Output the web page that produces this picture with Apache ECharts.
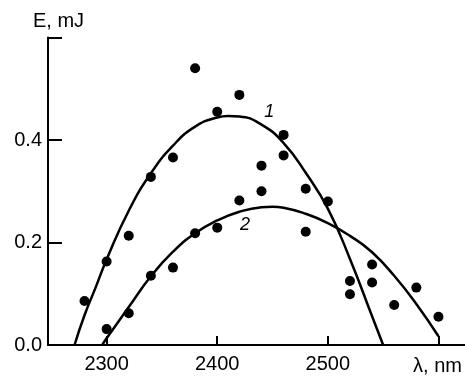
<!DOCTYPE html>
<html>
<head>
<meta charset="utf-8">
<script src="https://cdn.jsdelivr.net/npm/echarts@6/dist/echarts.min.js"></script>
<style>
  html, body { margin: 0; padding: 0; background: #fff; }
  #chart { width: 465px; height: 376px; }
</style>
</head>
<body>
<div id="chart"></div>
<script>
// measured points: [wavelength nm, energy mJ]
const measured = [
  [2280, 0.086], [2300, 0.163], [2300, 0.031], [2320, 0.213], [2320, 0.062],
  [2340, 0.328], [2340, 0.135], [2360, 0.366], [2360, 0.151], [2380, 0.540],
  [2380, 0.218], [2400, 0.455], [2400, 0.229], [2420, 0.488], [2420, 0.282],
  [2440, 0.350], [2440, 0.300], [2460, 0.410], [2460, 0.370], [2480, 0.305],
  [2480, 0.221], [2500, 0.280], [2520, 0.125], [2520, 0.099], [2540, 0.157],
  [2540, 0.122], [2560, 0.078], [2580, 0.112], [2600, 0.055]
];

// fitted curves
const curve1 = [
  [2271, 0], [2280, 0.058], [2290, 0.112], [2300, 0.167], [2320, 0.262],
  [2340, 0.335], [2360, 0.389], [2380, 0.426], [2400, 0.444], [2410, 0.447],
  [2420, 0.446], [2440, 0.430], [2460, 0.394], [2480, 0.336], [2500, 0.266],
  [2520, 0.168], [2540, 0.056], [2550, 0]
];
const curve2 = [
  [2296, 0], [2300, 0.013], [2320, 0.074], [2340, 0.134], [2360, 0.182],
  [2380, 0.218], [2400, 0.243], [2420, 0.260], [2440, 0.269], [2450, 0.270],
  [2460, 0.268], [2480, 0.256], [2500, 0.238], [2520, 0.213], [2540, 0.181],
  [2560, 0.135], [2580, 0.080], [2600, 0.017]
];

// curve numbers and where they sit
const curveTags = [
  { text: '1', at: [2447, 0.455] },
  { text: '2', at: [2425, 0.234] }
];

const xTicks = [2300, 2400, 2500, 2600];
const xLabels = [2300, 2400, 2500];
const yLabels = [0, 0.2, 0.4];

const font = 'Liberation Sans, Arial, sans-serif';
const chart = echarts.init(document.getElementById('chart'));

function tag(i) {
  return {
    symbol: 'circle',
    symbolSize: 0,
    silent: true,
    label: {
      show: true,
      position: 'inside',
      color: '#000',
      fontFamily: font,
      fontSize: 18,
      fontStyle: 'italic',
      formatter: curveTags[i].text
    },
    data: [{ coord: curveTags[i].at }]
  };
}

chart.setOption({
  animation: false,
  backgroundColor: '#fff',
  grid: { left: 48, right: 0, top: 37.5, bottom: 31 },
  xAxis: {
    type: 'value',
    min: 2247,
    max: 2624,
    name: 'λ, nm',
    nameLocation: 'end',
    nameGap: -3,
    nameTextStyle: {
      color: '#000', fontFamily: font, fontSize: 20,
      align: 'right', verticalAlign: 'top', padding: [11, 0, 0, 0]
    },
    axisLine: { show: true, lineStyle: { color: '#000', width: 2 } },
    axisTick: { show: true, inside: true, length: 9, lineStyle: { color: '#000', width: 2 }, customValues: xTicks },
    axisLabel: {
      color: '#000', fontFamily: font, fontSize: 20, margin: 9,
      customValues: xLabels,
      formatter: v => String(v)
    },
    splitLine: { show: false }
  },
  yAxis: {
    type: 'value',
    min: 0,
    max: 0.6,
    interval: 0.2,
    name: 'E, mJ',
    nameLocation: 'end',
    nameGap: 6,
    nameTextStyle: {
      color: '#000', fontFamily: font, fontSize: 20,
      align: 'center', padding: [0, 0, 0, 21]
    },
    axisLine: { show: true, lineStyle: { color: '#000', width: 2 } },
    axisTick: { show: true, inside: true, length: 14, lineStyle: { color: '#000', width: 2 } },
    axisLabel: {
      color: '#000', fontFamily: font, fontSize: 20, margin: 6,
      formatter: v => (yLabels.some(l => Math.abs(l - v) < 1e-9) ? v.toFixed(1) : '')
    },
    splitLine: { show: false }
  },
  series: [
    {
      name: 'curve 1',
      type: 'line',
      data: curve1,
      smooth: true,
      showSymbol: false,
      lineStyle: { color: '#000', width: 2.5 },
      markPoint: tag(0),
      z: 2
    },
    {
      name: 'curve 2',
      type: 'line',
      data: curve2,
      smooth: true,
      showSymbol: false,
      lineStyle: { color: '#000', width: 2.5 },
      markPoint: tag(1),
      z: 2
    },
    {
      name: 'measured',
      type: 'scatter',
      data: measured,
      symbolSize: 10,
      itemStyle: { color: '#000', opacity: 1 },
      z: 3
    }
  ]
});
</script>
</body>
</html>
